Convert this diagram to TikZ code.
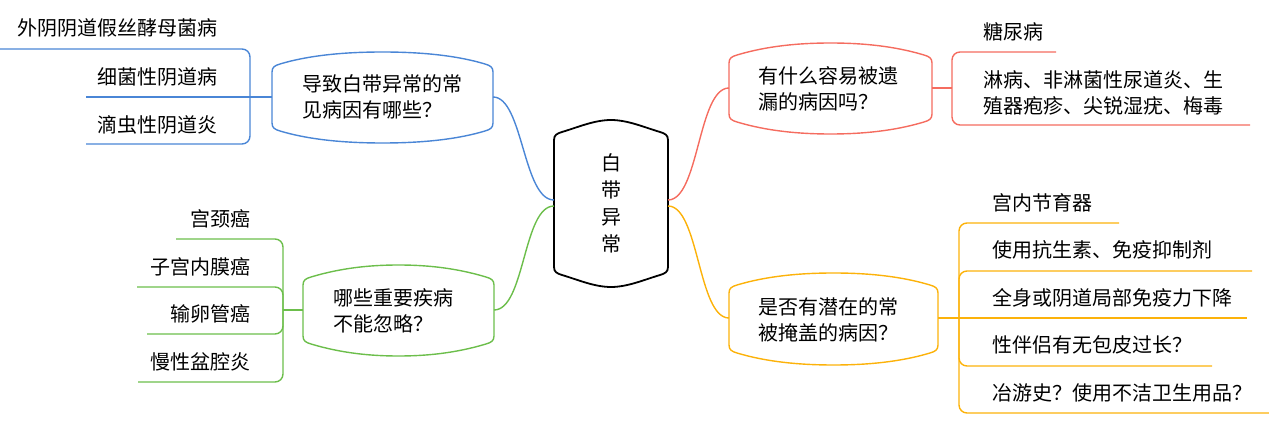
\documentclass[tikz,border=0pt]{standalone}
\usepackage{fontspec}
\setmainfont{Noto Sans CJK SC}
\definecolor{cblue}{RGB}{74,134,214}
\definecolor{cred}{RGB}{245,108,95}
\definecolor{cgreen}{RGB}{108,190,75}
\definecolor{corange}{RGB}{252,178,10}
% #1 x-left, #2 x-right, #3 y-top, #4 y-bottom, #5 style, #6 shoulder reach
\newcommand\mmbubble[6]{%
 \pgfmathsetmacro\mmxm{(#1+#2)/2}%
 \pgfmathsetmacro\mmbb{((#2-#1)/2-8-#6)/2}%
 \pgfmathsetmacro\mmry{0.3*#6}%
 \draw[#5] ({#1},{#3+20}) .. controls ({#1},{#3+15}) and ({#1+3},{#3+13.5}) .. ({#1+8},{#3+12})
 .. controls ({#1+8+#6},{#3+12-\mmry}) and ({\mmxm-\mmbb},{#3}) .. ({\mmxm},{#3})
 .. controls ({\mmxm+\mmbb},{#3}) and ({#2-8-#6},{#3+12-\mmry}) .. ({#2-8},{#3+12})
 .. controls ({#2-3},{#3+13.5}) and ({#2},{#3+15}) .. ({#2},{#3+20})
 -- ({#2},{#4-20})
 .. controls ({#2},{#4-15}) and ({#2-3},{#4-13.5}) .. ({#2-8},{#4-12})
 .. controls ({#2-8-#6},{#4-12+\mmry}) and ({\mmxm+\mmbb},{#4}) .. ({\mmxm},{#4})
 .. controls ({\mmxm-\mmbb},{#4}) and ({#1+8+#6},{#4-12+\mmry}) .. ({#1+8},{#4-12})
 .. controls ({#1+3},{#4-13.5}) and ({#1},{#4-15}) .. ({#1},{#4-20}) -- cycle;}
\begin{document}
\begin{tikzpicture}[x=1pt,y=-1pt,
  txt/.style={inner sep=0pt, font=\fontsize{20}{26}\selectfont, align=left},
  bbl/.style={draw=cblue, line width=1.4pt},
  bre/.style={draw=cred, line width=1.4pt},
  bgr/.style={draw=cgreen, line width=1.4pt},
  bor/.style={draw=corange, line width=1.4pt},
  cb/.style={bbl, rounded corners=8pt},
  cr/.style={bre, rounded corners=8pt},
  cg/.style={bgr, rounded corners=8pt},
  co/.style={bor, rounded corners=8pt},
  corebox/.style={draw=black, line width=1.8pt}]
\useasboundingbox (0,0) rectangle (1269,427);

% central topic
\mmbubble{554}{668}{120}{287}{corebox}{16}
\node[inner sep=0pt, font=\fontsize{20}{27}\selectfont, align=center] (core) at (611,203) {白\\带\\异\\常};
\coordinate (cL1) at (554,200);
\coordinate (cL2) at (554,206);
\coordinate (cR1) at (668,200);
\coordinate (cR2) at (668,206);

% blue branch
\mmbubble{272}{493}{52}{143}{bbl}{30}
\node[txt, anchor=west] (bq) at (302,96.5) {导致白带异常的常\\见病因有哪些？};
\coordinate (bqL) at (272,97);
\coordinate (bqR) at (493,97);
\coordinate (bJ) at (250,97);
\node[txt, anchor=east] (b1) at (218,28) {外阴阴道假丝酵母菌病};
\node[txt, anchor=east] (b2) at (218,77) {细菌性阴道病};
\node[txt, anchor=east] (b3) at (218,125) {滴虫性阴道炎};
\coordinate (b1e) at (0,49);
\coordinate (b2e) at (86,97);
\coordinate (b3e) at (86,144);
\draw[cb] (cL1) .. controls (523,200) and (523,97) .. (bqR);
\draw[cb] (bqL) -- (bJ);
\draw[cb] (bJ) |- (b1e);
\draw[cb] (bJ) -- (b2e);
\draw[cb] (bJ) |- (b3e);

% green branch
\mmbubble{303}{494}{265}{356}{bgr}{30}
\node[txt, anchor=west] (gq) at (333,311) {哪些重要疾病\\不能忽略？};
\coordinate (gqL) at (303,310);
\coordinate (gqR) at (494,310);
\coordinate (gJ) at (283,310);
\node[txt, anchor=east] (g1) at (251,219) {宫颈癌};
\node[txt, anchor=east] (g2) at (251,267) {子宫内膜癌};
\node[txt, anchor=east] (g3) at (251,314) {输卵管癌};
\node[txt, anchor=east] (g4) at (251,362) {慢性盆腔炎};
\coordinate (g1e) at (176,239);
\coordinate (g2e) at (137,287);
\coordinate (g3e) at (147,334);
\coordinate (g4e) at (138,382);
\draw[cg] (cL2) .. controls (523,206) and (525,310) .. (gqR);
\draw[cg] (gqL) -- (gJ);
\draw[cg] (gJ) |- (g1e);
\draw[cg] (gJ) |- (g2e);
\draw[cg] (gJ) |- (g3e);
\draw[cg] (gJ) |- (g4e);

% red branch
\mmbubble{729}{932}{43}{134}{bre}{30}
\node[txt, anchor=west] (rq) at (758,89) {有什么容易被遗\\漏的病因吗？};
\coordinate (rqL) at (729,88);
\coordinate (rqR) at (932,88);
\coordinate (rJ) at (952,88);
\node[txt, anchor=west] (r1) at (983,32) {糖尿病};
\node[txt, anchor=west] (r2) at (983,92.5) {淋病、非淋菌性尿道炎、生\\殖器疱疹、尖锐湿疣、梅毒};
\coordinate (r1e) at (1056,52);
\coordinate (r2e) at (1250,125);
\draw[cr] (cR1) .. controls (699,200) and (698,88) .. (rqL);
\draw[cr] (rqR) -- (rJ);
\draw[cr] (rJ) |- (r1e);
\draw[cr] (rJ) |- (r2e);

% orange branch
\mmbubble{729}{938}{273}{365}{bor}{30}
\node[txt, anchor=west] (oq) at (758,319.5) {是否有潜在的常\\被掩盖的病因？};
\coordinate (oqL) at (729,318);
\coordinate (oqR) at (938,318);
\coordinate (oJ) at (959,318);
\node[txt, anchor=west] (o1) at (992,203) {宫内节育器};
\node[txt, anchor=west] (o2) at (992,250) {使用抗生素、免疫抑制剂};
\node[txt, anchor=west] (o3) at (992,298) {全身或阴道局部免疫力下降};
\node[txt, anchor=west] (o4) at (992,345) {性伴侣有无包皮过长？};
\node[txt, anchor=west] (o5) at (992,393) {冶游史？使用不洁卫生用品？};
\coordinate (o1e) at (1119,223);
\coordinate (o2e) at (1252,271);
\coordinate (o3e) at (1247,318);
\coordinate (o4e) at (1212,366);
\coordinate (o5e) at (1269,413);
\draw[co] (cR2) .. controls (699,206) and (698,318) .. (oqL);
\draw[co] (oqR) -- (oJ);
\draw[co] (oJ) |- (o1e);
\draw[co] (oJ) |- (o2e);
\draw[co] (oJ) -- (o3e);
\draw[co] (oJ) |- (o4e);
\draw[co] (oJ) |- (o5e);
\end{tikzpicture}
\end{document}
